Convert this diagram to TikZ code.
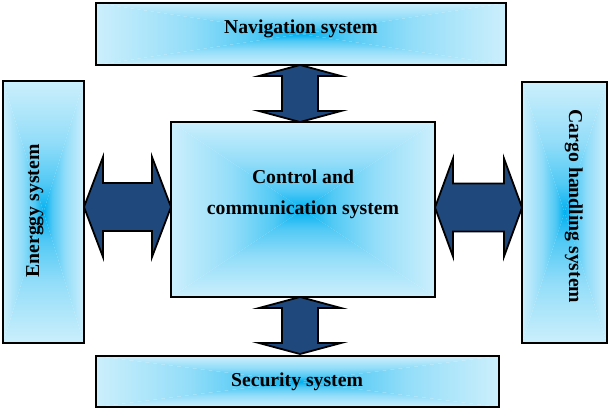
\documentclass[tikz,border=0pt]{standalone}
\usepackage{fontspec}
\setmainfont{Liberation Serif}
\usetikzlibrary{calc,backgrounds}
\definecolor{clight}{RGB}{204,239,252}
\definecolor{cblue}{RGB}{0,176,240}
\colorlet{cmidA}{clight!72!cblue}
\colorlet{cmidB}{clight!40!cblue}
\definecolor{arrfill}{RGB}{31,73,125}
% edge (top, 75bp) light -> centre (bottom, 25bp) blue
\pgfdeclareverticalshading{rectgrad}{100bp}{color(0bp)=(cblue); color(25bp)=(cblue);
  color(36bp)=(cmidB); color(52bp)=(cmidA); color(75bp)=(clight); color(100bp)=(clight)}
\tikzset{
  sysbox/.style={draw=black,line width=2bp,rectangle,inner sep=0pt,outer sep=0pt},
  lbl/.style={font=\bfseries\fontsize{19.7bp}{31bp}\selectfont,inner sep=0pt},
  blockarr/.style={draw=black,line width=1.8bp,fill=arrfill,line join=miter},
  gtop/.style={shading=rectgrad,shading angle=0},
  gbot/.style={shading=rectgrad,shading angle=180},
  gleft/.style={shading=rectgrad,shading angle=90},
  gright/.style={shading=rectgrad,shading angle=270},
}
\newcommand\gradfill[1]{%
  \shade[gtop] (#1.north west) -- (#1.north east) -- (#1.center) -- cycle;
  \shade[gbot] (#1.south west) -- (#1.south east) -- (#1.center) -- cycle;
  \shade[gleft] (#1.north west) -- (#1.south west) -- (#1.center) -- cycle;
  \shade[gright] (#1.north east) -- (#1.south east) -- (#1.center) -- cycle;}
% horizontal block arrow: #1 left tip, #2 right tip, #3 head length, #4 head half, #5 shaft half
\newcommand\harrow[5]{%
  \draw[blockarr] (#1) -- ($(#1)+(#3,-#4)$) -- ($(#1)+(#3,-#5)$) -- ($(#2)+(-#3,-#5)$)
    -- ($(#2)+(-#3,-#4)$) -- (#2) -- ($(#2)+(-#3,#4)$) -- ($(#2)+(-#3,#5)$)
    -- ($(#1)+(#3,#5)$) -- ($(#1)+(#3,#4)$) -- cycle;}
% vertical block arrow: #1 top tip, #2 bottom tip
\newcommand\varrow[5]{%
  \draw[blockarr] (#1) -- ($(#1)+(#4,#3)$) -- ($(#1)+(#5,#3)$) -- ($(#2)+(#5,-#3)$)
    -- ($(#2)+(#4,-#3)$) -- (#2) -- ($(#2)+(-#4,-#3)$) -- ($(#2)+(-#5,-#3)$)
    -- ($(#1)+(-#5,#3)$) -- ($(#1)+(-#4,#3)$) -- cycle;}
\begin{document}
\begin{tikzpicture}[x=1bp,y=-1bp]
\useasboundingbox (0,0) rectangle (612,410);
% boxes
\node[sysbox,minimum width=410bp,minimum height=62bp] (nav) at (301,34) {};
\node[sysbox,minimum width=264bp,minimum height=175bp] (ctrl) at (303,209.5) {};
\node[sysbox,minimum width=81bp,minimum height=262bp] (en) at (43.5,212) {};
\node[sysbox,minimum width=85bp,minimum height=261bp] (cargo) at (564.5,212.5) {};
\node[sysbox,minimum width=403bp,minimum height=51bp] (sec) at (297.5,381.5) {};
\begin{scope}[on background layer]
  \fill[white] (0,0) rectangle (612,410);
  \gradfill{nav}\gradfill{ctrl}\gradfill{en}\gradfill{cargo}\gradfill{sec}
\end{scope}
% labels
\node[lbl,anchor=base] (navT) at (301,33) {Navigation system};
\node[lbl,align=center] (ctrlT) at (303,194) {Control and\\communication system};
\node[lbl,anchor=base] (secT) at (297,386) {Security system};
\node[lbl,anchor=base,rotate=90] (enT) at (39,211) {Energgy system};
\node[lbl,anchor=base,rotate=-90] (cargoT) at (569,206.5) {Cargo handling system};
% connector end points
\coordinate (l1) at ($(en.east|-ctrl.west)+(0,-2.5)$);
\coordinate (l2) at ($(ctrl.west)+(0,-2.5)$);
\coordinate (r1) at ($(ctrl.east)+(0,-2)$);
\coordinate (r2) at ($(cargo.west|-ctrl.east)+(0,-2)$);
\coordinate (t1) at ($(nav.south)+(-1,0)$);
\coordinate (t2) at (t1|-ctrl.north);
\coordinate (b1) at ($(ctrl.south)+(-3,0)$);
\coordinate (b2) at ($(b1|-sec.north)+(0,-2)$);
% block arrows
\harrow{l1}{l2}{19}{50}{24}
\harrow{r1}{r2}{18}{49}{24}
\varrow{t1}{t2}{11}{41}{18}
\varrow{b1}{b2}{11}{41}{18}
\end{tikzpicture}
\end{document}
